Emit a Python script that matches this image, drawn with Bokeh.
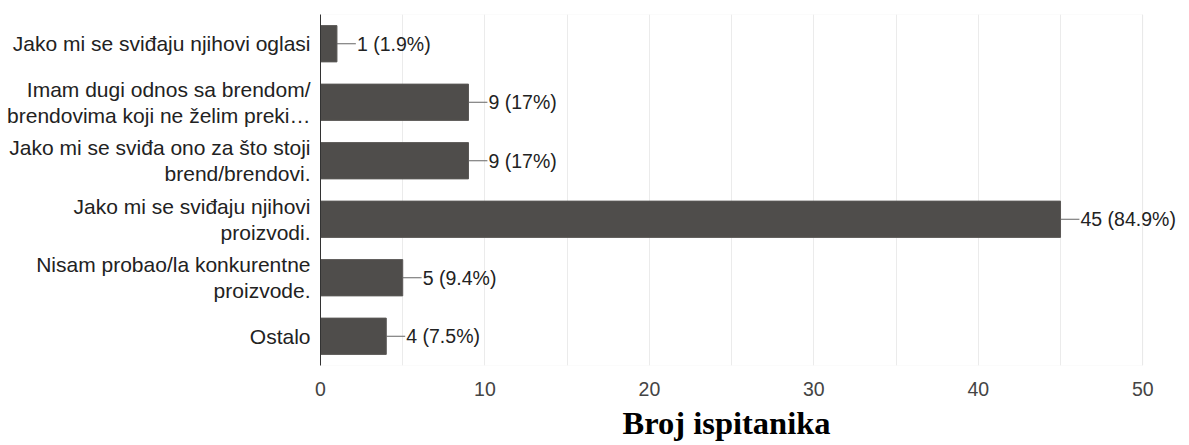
from bokeh.plotting import figure
from bokeh.models import (ColumnDataSource, FactorRange, Range1d, LabelSet,
                          SingleIntervalTicker, BoxAnnotation, Title)
from bokeh.core.properties import value
from bokeh.embed import file_html
from bokeh.resources import INLINE

categories = [
    "Jako mi se sviđaju njihovi oglasi",
    "Imam dugi odnos sa brendom/\nbrendovima koji ne želim preki…",
    "Jako mi se sviđa ono za što stoji\nbrend/brendovi.",
    "Jako mi se sviđaju njihovi\nproizvodi.",
    "Nisam probao/la konkurentne\nproizvode.",
    "Ostalo",
]
counts = [1, 9, 9, 45, 5, 4]
percents = ["1.9%", "17%", "17%", "84.9%", "9.4%", "7.5%"]
x_ticks = [0, 10, 20, 30, 40, 50]
axis_title = "Broj ispitanika"

leader = 1.15
src = ColumnDataSource(dict(
    cat=categories,
    count=counts,
    lead_end=[c + leader for c in counts],
    label=[f"{c} ({p})" for c, p in zip(counts, percents)],
))

# frame extends a little past the last tick so the longest value label is not clipped
p = figure(
    width=1189, height=445,
    y_range=FactorRange(factors=list(reversed(categories))),
    x_range=Range1d(x_ticks[0], 52.6),
    output_backend="svg", toolbar_location=None,
    min_border_left=320, min_border_right=4, min_border_top=14, min_border_bottom=80,
)
p.background_fill_color = "white"
p.border_fill_color = "white"
p.outline_line_color = None

# light box around the data area (0 .. 50)
p.add_layout(BoxAnnotation(left=x_ticks[0], right=x_ticks[-1], fill_alpha=0,
                           line_color="#e3e3e3", line_width=1, level="underlay"))

p.hbar(y="cat", right="count", left=0, height=0.62, source=src,
       fill_color="#4f4d4b", line_color="#5a5856", line_width=1)
p.segment(x0="count", y0="cat", x1="lead_end", y1="cat", source=src,
          line_color="#666666", line_width=1)

labels = LabelSet(x="count", y="cat", text="label", source=src,
                  x_offset=20, y_offset=0, text_baseline="middle",
                  text_font=value("Liberation Sans"), text_font_size="19.5px",
                  text_color="#222222")
p.add_layout(labels)

p.xgrid.ticker = SingleIntervalTicker(interval=5)
p.xgrid.grid_line_color = "#ebebeb"
p.ygrid.grid_line_color = None

xa = p.xaxis[0]
xa.ticker = SingleIntervalTicker(interval=10)
xa.axis_line_color = None
xa.major_tick_line_color = None
xa.minor_tick_line_color = None
xa.major_label_text_font = "Liberation Sans"
xa.major_label_text_font_size = "19.5px"
xa.major_label_text_color = "#444444"
xa.major_label_standoff = 10

title = Title(text=axis_title, align="left", offset=302, standoff=8,
              text_font="Liberation Serif", text_font_style="bold",
              text_font_size="32.5px", text_color="#000000")
p.add_layout(title, "below")

ya = p.yaxis[0]
ya.axis_line_color = "#333333"
ya.axis_line_width = 1
ya.major_tick_line_color = None
ya.minor_tick_line_color = None
ya.major_label_text_font = "Liberation Sans"
ya.major_label_text_font_size = "21px"
ya.major_label_text_color = "#222222"
ya.major_label_standoff = 4
ya.major_label_text_line_height = 1.15

open("out.html", "w").write(file_html(p, INLINE))
